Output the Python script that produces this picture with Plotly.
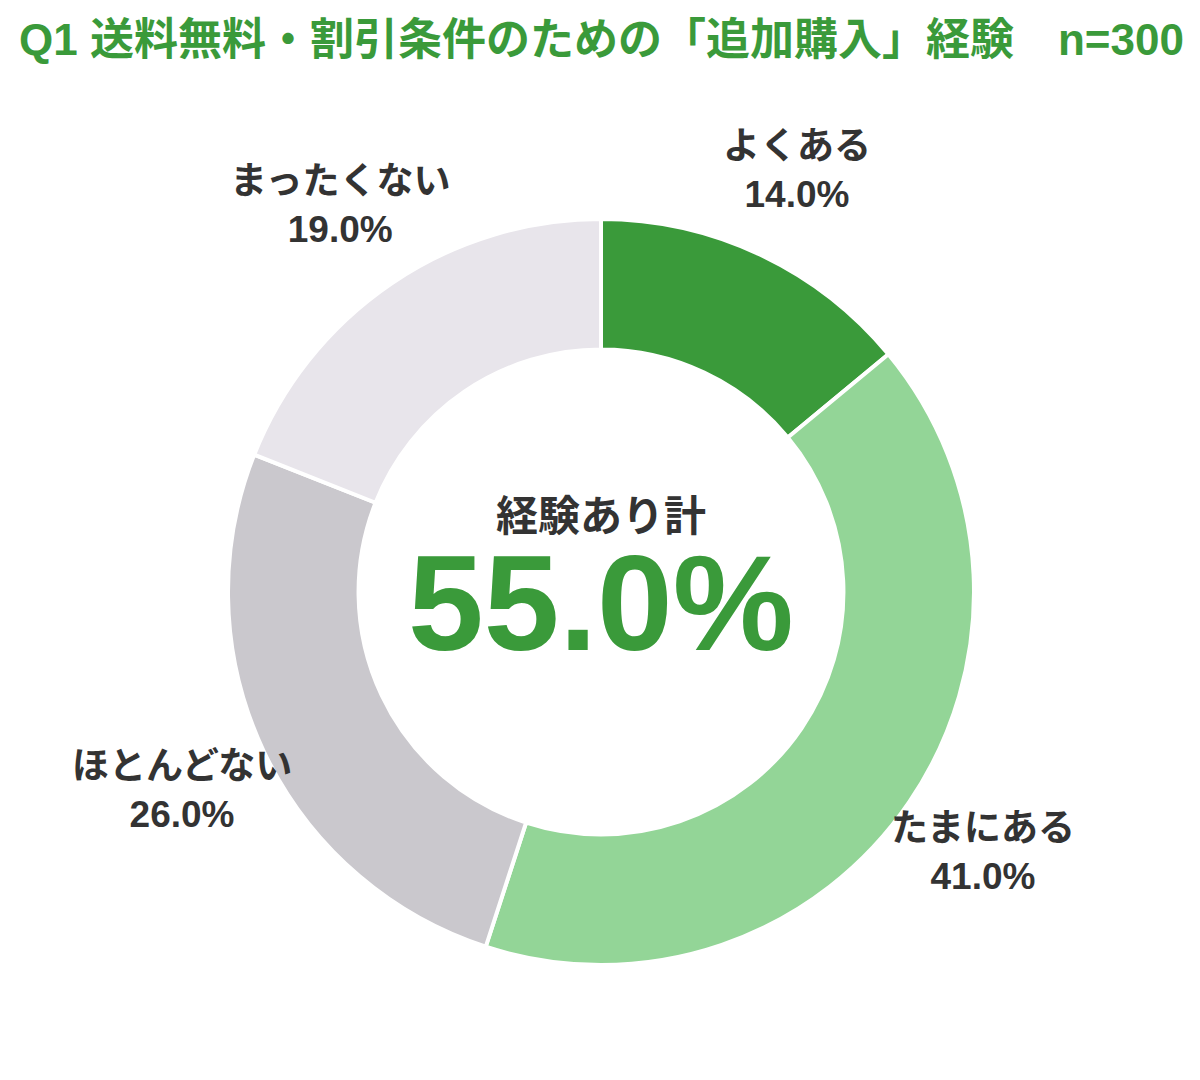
import plotly.graph_objects as go

labels = ["よくある", "たまにある", "ほとんどない", "まったくない"]
values = [14.0, 41.0, 26.0, 19.0]
colors = ["#3a9a3a", "#93d597", "#cac8cd", "#e8e5eb"]
total_label = "経験あり計"
total_value = values[0] + values[1]
title = "Q1 送料無料・割引条件のための「追加購入」経験　n=300"

FONT = "Liberation Sans, Noto Sans CJK JP"
GREEN = "#3a9a3a"
DARK = "#333333"

# page has an 8px body margin, so size the figure to fit the window
W, H, OFF = 1192, 1072, 8


def px(sx, sy):
    # screen pixel -> paper coords
    return (sx - OFF) / W, 1 - (sy - OFF) / H


x0, y1 = px(228, 219)
x1, y0 = px(974, 965)

fig = go.Figure(go.Pie(
    labels=labels, values=values, sort=False, direction="clockwise",
    rotation=0, hole=0.65, textinfo="none", hoverinfo="label+percent",
    marker=dict(colors=colors, line=dict(color="white", width=4)),
    domain=dict(x=[x0, x1], y=[y0, y1]),
    showlegend=False,
))

# outside labels (name + percent)
label_pos = [(797, 170), (983, 852), (182, 790), (340, 206)]
for name, v, (sx, sy) in zip(labels, values, label_pos):
    ax, ay = px(sx, sy)
    fig.add_annotation(
        x=ax, y=ay, xref="paper", yref="paper", xanchor="center", yanchor="middle",
        text=f"<b>{name}</b><br><b>{v:.1f}%</b>", showarrow=False,
        font=dict(family=FONT, size=37, color=DARK), align="center",
    )

ax, ay = px(601, 516)
fig.add_annotation(
    x=ax, y=ay, xref="paper", yref="paper", xanchor="center", yanchor="middle",
    text=f"<b>{total_label}</b>", showarrow=False,
    font=dict(family=FONT, size=42, color=DARK),
)
ax, ay = px(601, 603)
fig.add_annotation(
    x=ax, y=ay, xref="paper", yref="paper", xanchor="center", yanchor="middle",
    height=112, valign="middle",
    text=f"<b>{total_value:.1f}%</b>", showarrow=False,
    font=dict(family=FONT, size=136, color=GREEN),
)
ax, ay = px(601, 40)
fig.add_annotation(
    x=ax, y=ay, xref="paper", yref="paper", xanchor="center", yanchor="middle",
    text=f"<b>{title}</b>", showarrow=False,
    font=dict(family=FONT, size=44, color=GREEN),
)

fig.update_layout(
    width=W, height=H,
    margin=dict(l=0, r=0, t=0, b=0),
    paper_bgcolor="white", plot_bgcolor="white",
)
fig.write_html("out.html")
